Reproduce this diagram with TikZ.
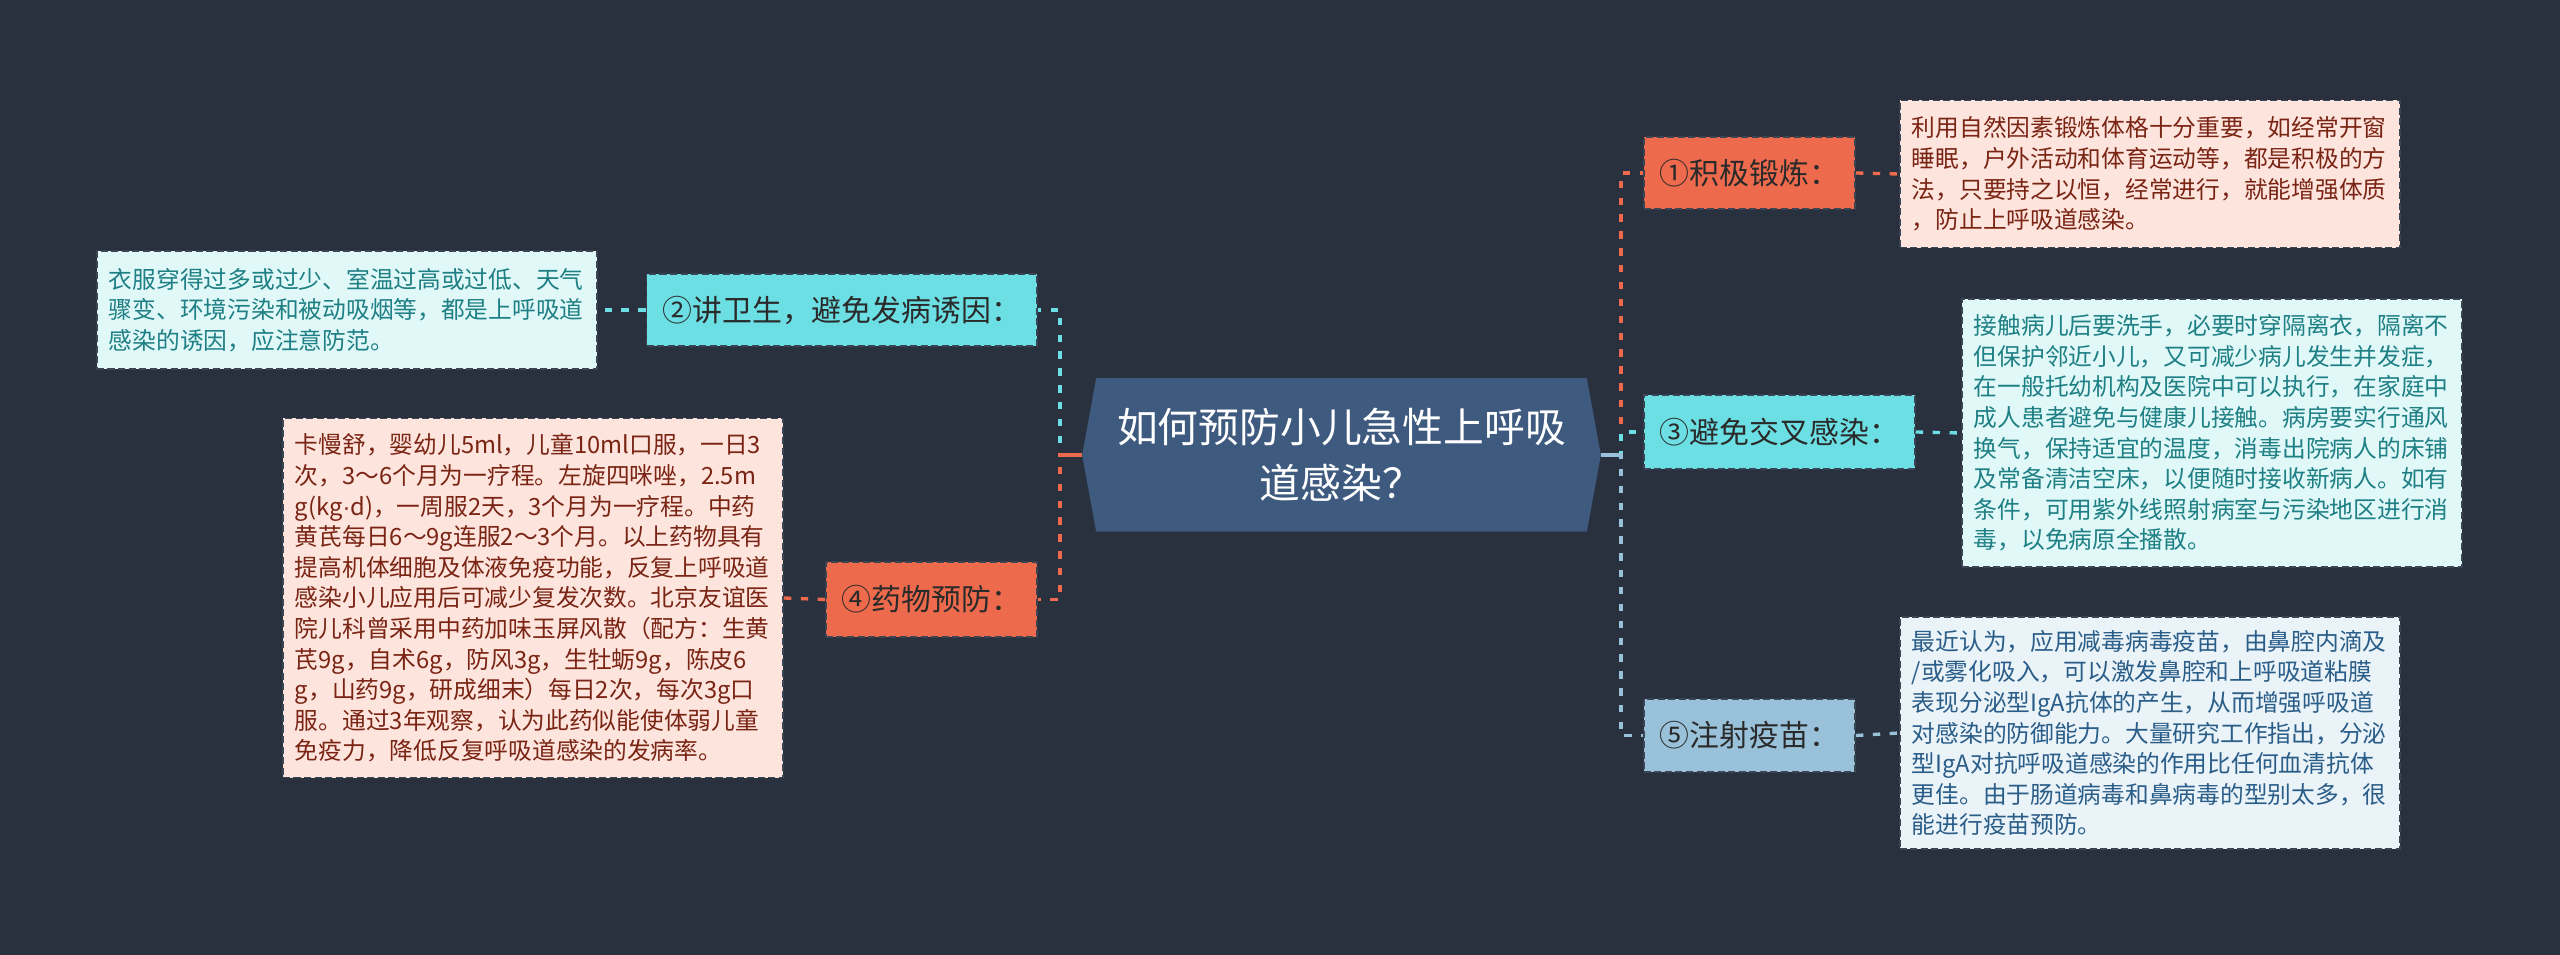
\documentclass[tikz,border=0pt]{standalone}
\usepackage{fontspec}
\newfontfamily\cjk{Noto Sans CJK SC}
\newfontfamily\lat{Liberation Sans}
\usetikzlibrary{positioning}
\definecolor{bgc}{HTML}{29303E}
\definecolor{rootc}{HTML}{3E5A7E}
\definecolor{orangec}{HTML}{EE6A4C}
\definecolor{cyanc}{HTML}{6CDFE4}
\definecolor{bluec}{HTML}{99C1DA}
\definecolor{pinkbg}{HTML}{FDE4DD}
\definecolor{cyanbg}{HTML}{E0F8F8}
\definecolor{bluebg}{HTML}{EAF3F8}
\definecolor{pinktx}{HTML}{7A2414}
\definecolor{cyantx}{HTML}{1E7F84}
\definecolor{bluetx}{HTML}{2A5D88}
\definecolor{nodetx}{HTML}{2A2A2A}
\definecolor{borderc}{HTML}{3A4452}
\tikzset{
  x=0.01cm, y=-0.01cm,
  topic/.style={font=\cjk\fontsize{8.5}{10}\selectfont, text=nodetx, draw=borderc,
    line width=0.45pt, dash pattern=on 2pt off 1pt, inner xsep=0.16cm, inner ysep=0pt,
    minimum height=0.73cm},
  detail/.style={font=\cjk\fontsize{6.75}{8.7}\selectfont, draw=borderc,
    line width=0.45pt, dash pattern=on 2pt off 1pt, inner xsep=0.12cm, inner ysep=0pt,
    text width=4.76cm, align=left},
  conn/.style={line width=0.95pt, dash pattern=on 2.1pt off 2.7pt},
}
\begin{document}
\begin{tikzpicture}
\fill[bgc] (0,0) rectangle (2560,955);
\useasboundingbox (0,0) rectangle (2560,955);

% root
\node[minimum width=5.17cm, minimum height=1.52cm, inner sep=0pt] (root) at (1341.5,455) {};
\fill[rootc] (root.west) -- ([xshift=0.14cm]root.north west) -- ([xshift=-0.14cm]root.north east)
  -- (root.east) -- ([xshift=-0.14cm]root.south east) -- ([xshift=0.14cm]root.south west) -- cycle;
\node[font=\cjk\fontsize{11.6}{15.9}\selectfont, text=white, align=center] (roottext) at (root.center)
  {如何预防小儿急性上呼吸\\道感染？};

% left topics
\node[topic, fill=cyanc, anchor=east, minimum height=0.72cm] (n2) at (1038,310) {②讲卫生，避免发病诱因：};
\node[topic, fill=orangec, anchor=east, minimum height=0.75cm] (n4) at (1038,599.5) {④药物预防：};
% right topics
\node[topic, fill=orangec, anchor=west, minimum height=0.72cm] (n1) at (1643,173) {①积极锻炼：};
\node[topic, fill=cyanc, anchor=west, minimum height=0.74cm] (n3) at (1643,432) {③避免交叉感染：};
\node[topic, fill=bluec, anchor=west, minimum height=0.73cm] (n5) at (1643,735.5) {⑤注射疫苗：};

% details
\node[detail, fill=cyanbg, text=cyantx, anchor=east, minimum height=1.18cm] (d2) at (598,310)
{衣服穿得过多或过少、室温过高或过低、天气\\骤变、环境污染和被动吸烟等，都是上呼吸道\\感染的诱因，应注意防范。};
\node[detail, fill=pinkbg, text=pinktx, anchor=east, minimum height=3.59cm] (d4) at (784,598)
{卡慢舒，婴幼儿5ml，儿童10ml口服，一日3\\次，3～6个月为一疗程。左旋四咪唑，2.5m\\g(kg{\lat ·}d)，一周服2天，3个月为一疗程。中药\\黄芪每日6～9g连服2～3个月。以上药物具有\\提高机体细胞及体液免疫功能，反复上呼吸道\\感染小儿应用后可减少复发次数。北京友谊医\\院儿科曾采用中药加味玉屏风散（配方：生黄\\芪9g，自术6g，防风3g，生牡蛎9g，陈皮6\\g，山药9g，研成细末）每日2次，每次3g口\\服。通过3年观察，认为此药似能使体弱儿童\\免疫力，降低反复呼吸道感染的发病率。};
\node[detail, fill=pinkbg, text=pinktx, anchor=west, minimum height=1.47cm] (d1) at (1899,174)
{利用自然因素锻炼体格十分重要，如经常开窗\\睡眠，户外活动和体育运动等，都是积极的方\\法，只要持之以恒，经常进行，就能增强体质\\，防止上呼吸道感染。};
\node[detail, fill=cyanbg, text=cyantx, anchor=west, minimum height=2.68cm] (d3) at (1961,433)
{接触病儿后要洗手，必要时穿隔离衣，隔离不\\但保护邻近小儿，又可减少病儿发生并发症，\\在一般托幼机构及医院中可以执行，在家庭中\\成人患者避免与健康儿接触。病房要实行通风\\换气，保持适宜的温度，消毒出院病人的床铺\\及常备清洁空床，以便随时接收新病人。如有\\条件，可用紫外线照射病室与污染地区进行消\\毒，以免病原全播散。};
\node[detail, fill=bluebg, text=bluetx, anchor=west, minimum height=2.32cm] (d5) at (1899,733)
{最近认为，应用减毒病毒疫苗，由鼻腔内滴及\\/或雾化吸入，可以激发鼻腔和上呼吸道粘膜\\表现分泌型IgA抗体的产生，从而增强呼吸道\\对感染的防御能力。大量研究工作指出，分泌\\型IgA对抗呼吸道感染的作用比任何血清抗体\\更佳。由于肠道病毒和鼻病毒的型别太多，很\\能进行疫苗预防。};

% connectors root -> topics
\draw[conn, cyanc] (root.west) -- ++(-22,0) |- (n2.east);
\draw[conn, orangec] (root.west) -- ++(-22,0) |- (n4.east);
\draw[line width=0.95pt, orangec] (root.west) -- ++(-22,0);
\draw[conn, orangec] (root.east) -- ++(20,0) |- (n1.west);
\draw[conn, cyanc] (root.east) -- ++(20,0) |- (n3.west);
\draw[conn, bluec] (root.east) -- ++(20,0) |- (n5.west);
\draw[line width=0.95pt, bluec] (root.east) -- ++(20,0);

% connectors topics -> details
\draw[conn, cyanc] (n2.west) -- (d2.east);
\draw[conn, orangec] (n4.west) -- (d4.east);
\draw[conn, orangec] (n1.east) -- (d1.west);
\draw[conn, cyanc] (n3.east) -- (d3.west);
\draw[conn, bluec] (n5.east) -- (d5.west);
\end{tikzpicture}
\end{document}
